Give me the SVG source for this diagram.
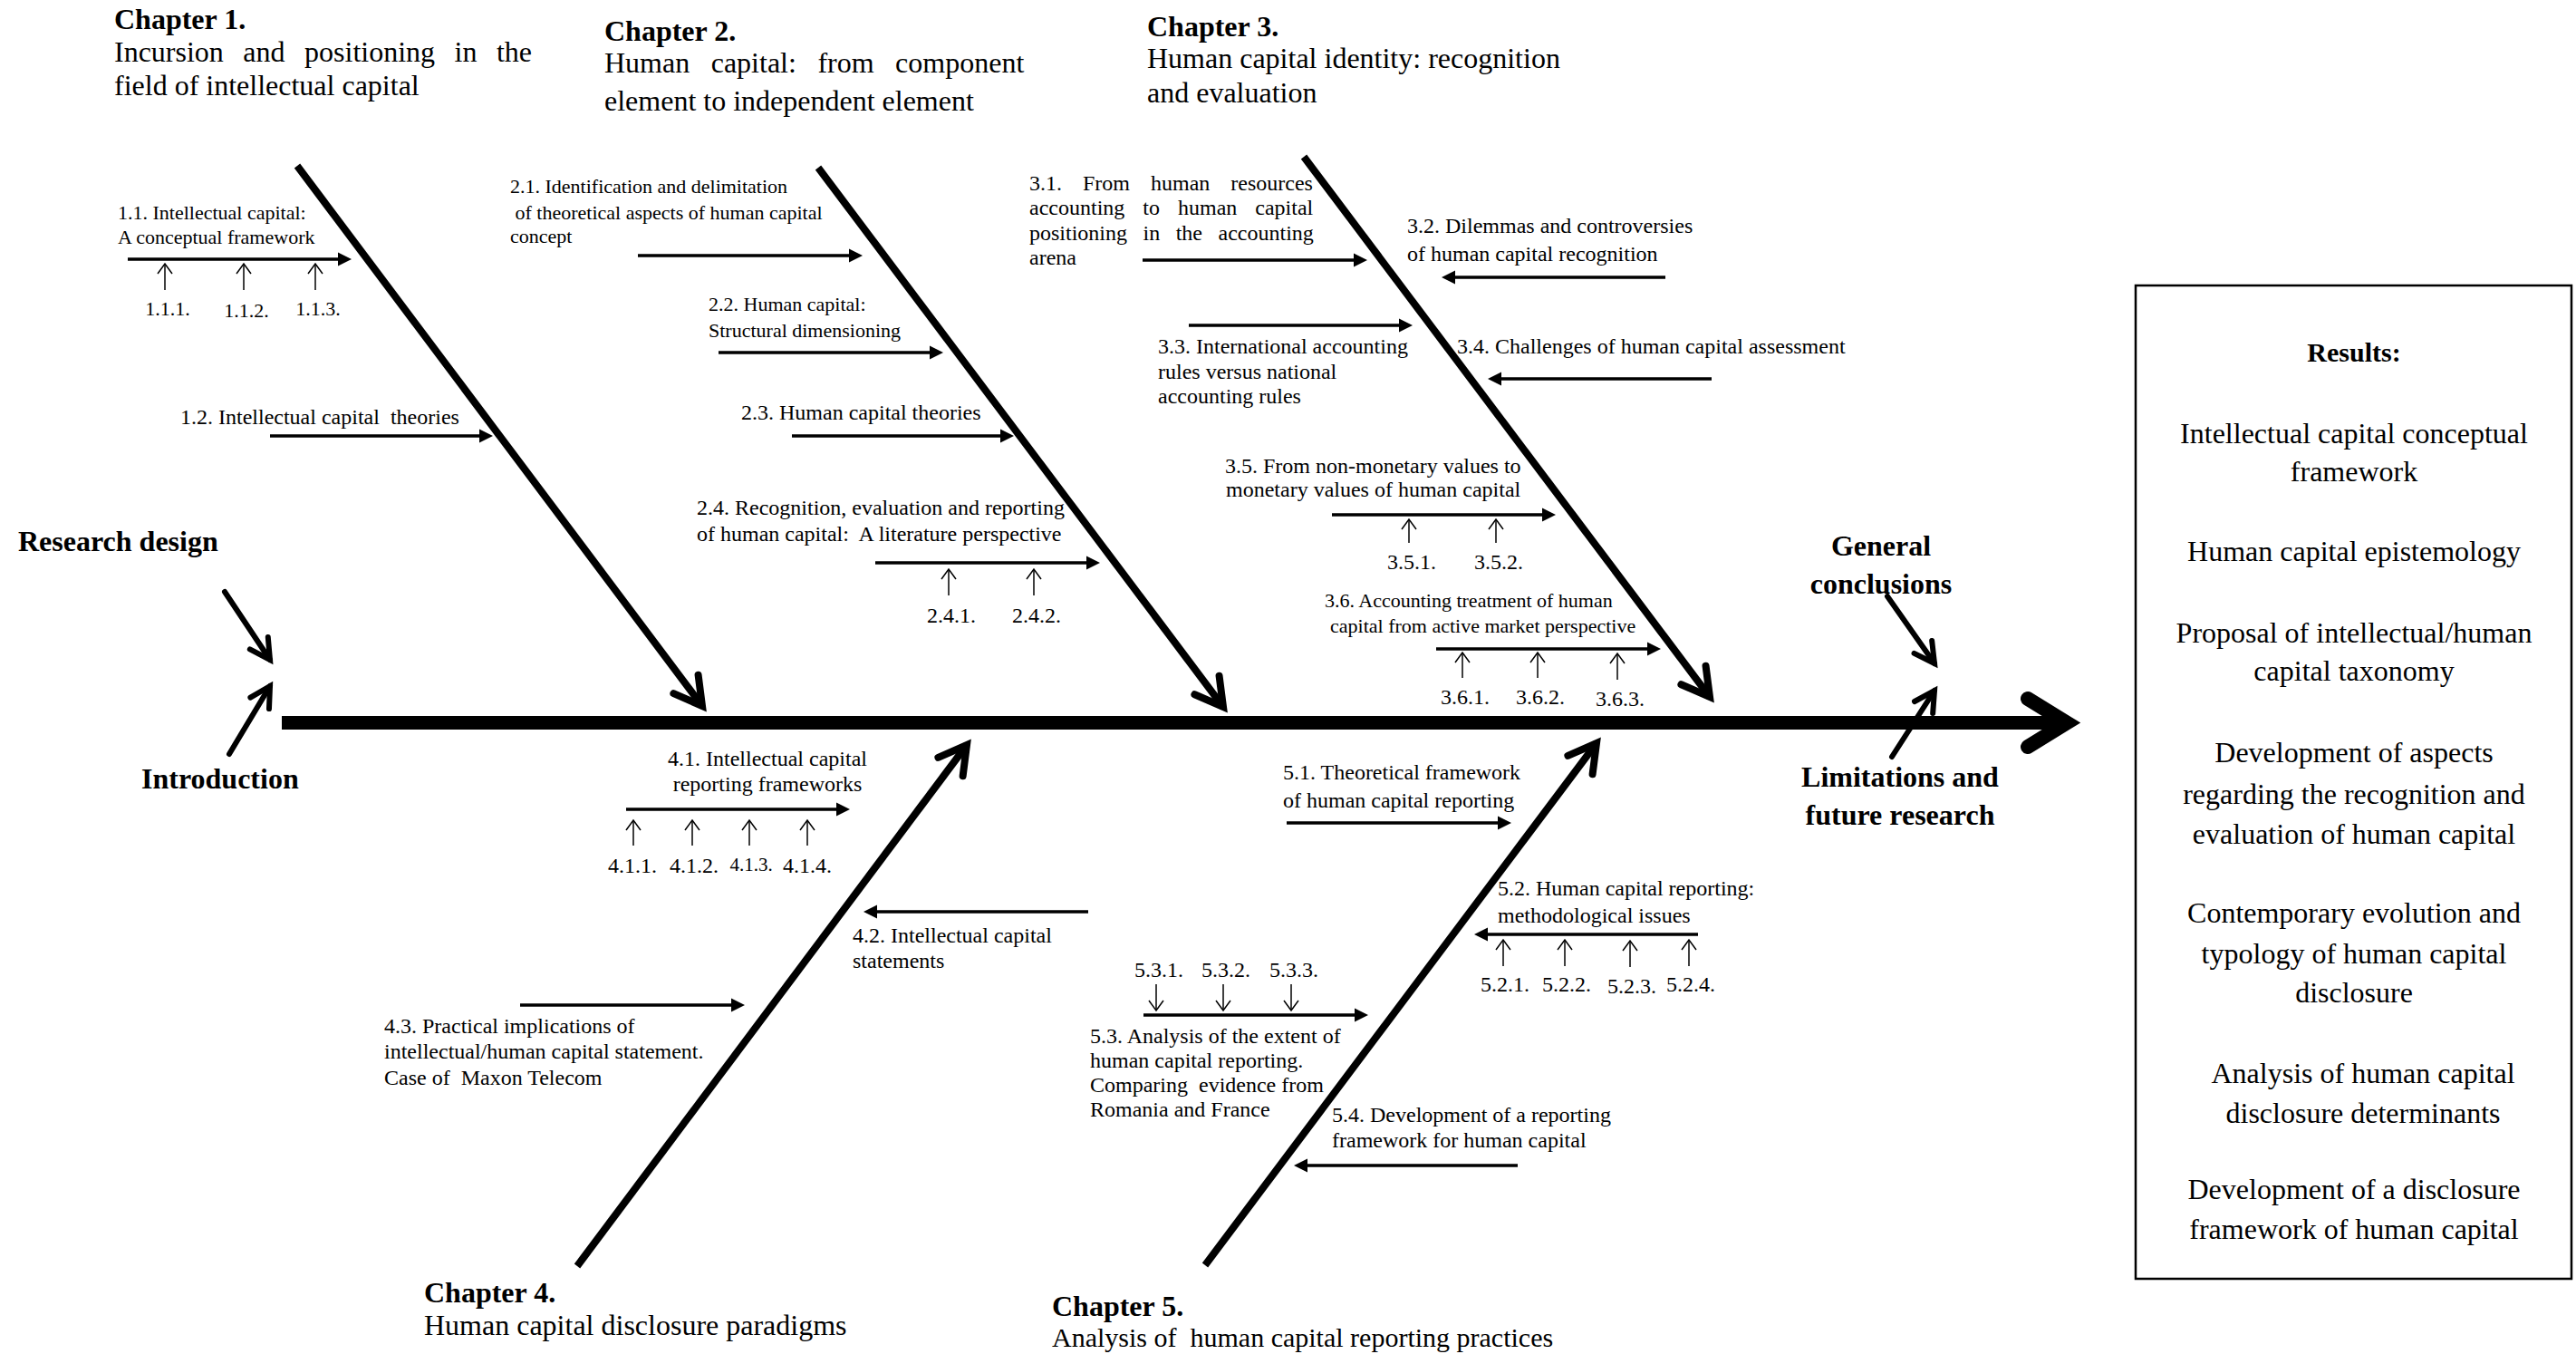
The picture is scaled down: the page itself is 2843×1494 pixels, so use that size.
<svg xmlns="http://www.w3.org/2000/svg" width="2843" height="1494" viewBox="0 0 2843 1494">
<style>
.t{font-family:"Liberation Serif","Times New Roman",serif;fill:#000}
.s21{font-size:21px}.s22{font-size:22px}.s24{font-size:24px}.s30{font-size:30px}.s32{font-size:32px}
.b{font-weight:bold}
.m{text-anchor:middle}
.bone{stroke:#000;stroke-width:8;fill:none;marker-end:url(#mBone)}
.sub{stroke:#000;stroke-width:3.5;fill:none;marker-end:url(#mSub)}
.tiny{stroke:#000;stroke-width:1.5;fill:none;marker-end:url(#mTiny)}
.barrow{stroke:#000;stroke-width:6;stroke-linecap:round;fill:none;marker-end:url(#mBold)}
</style>
<defs>
<marker id="mBone" markerUnits="userSpaceOnUse" orient="auto" refX="0" refY="0" markerWidth="60" markerHeight="60" overflow="visible">
<path d="M-30,-17 L0,0 L-30,17" fill="none" stroke="#000" stroke-width="8" stroke-linecap="round" stroke-linejoin="miter"/>
</marker>
<marker id="mSub" markerUnits="userSpaceOnUse" orient="auto" refX="5" refY="0" markerWidth="30" markerHeight="30" overflow="visible">
<path d="M0,-7.5 L15,0 L0,7.5 Z" fill="#000"/>
</marker>
<marker id="mTiny" markerUnits="userSpaceOnUse" orient="auto" refX="0" refY="0" markerWidth="30" markerHeight="30" overflow="visible">
<path d="M-11,-8 L0,0 L-11,8" fill="none" stroke="#000" stroke-width="1.5"/>
</marker>
<marker id="mBold" markerUnits="userSpaceOnUse" orient="auto" refX="0" refY="0" markerWidth="40" markerHeight="40" overflow="visible">
<path d="M-22,-12 L0,0 L-22,12" fill="none" stroke="#000" stroke-width="6" stroke-linecap="round" stroke-linejoin="miter"/>
</marker>
</defs>
<rect x="0" y="0" width="2843" height="1494" fill="#fff"/>

<g id="connectors">
<!-- main spine -->
<rect x="311" y="790" width="1968" height="15" fill="#000"/>
<path d="M2238,771 L2281,797.5 L2238,824" fill="none" stroke="#000" stroke-width="16" stroke-linecap="round" stroke-linejoin="miter"/>
<!-- bones -->
<line class="bone" x1="328" y1="183" x2="775" y2="779"/>
<line class="bone" x1="903" y1="185" x2="1350" y2="780"/>
<line class="bone" x1="1439" y1="173" x2="1887" y2="769"/>
<line class="bone" x1="637" y1="1397" x2="1067" y2="822"/>
<line class="bone" x1="1330" y1="1396" x2="1762" y2="820"/>
<!-- side bold arrows -->
<line class="barrow" x1="248" y1="653" x2="298" y2="728"/>
<line class="barrow" x1="253" y1="832" x2="298" y2="757"/>
<line class="barrow" x1="2083" y1="658" x2="2135" y2="732"/>
<line class="barrow" x1="2088" y1="835" x2="2135" y2="762"/>
<!-- sub-bone arrows -->
<line class="sub" x1="141" y1="286" x2="378" y2="286"/>
<line class="sub" x1="298" y1="481" x2="534" y2="481"/>
<line class="sub" x1="704" y1="282" x2="942" y2="282"/>
<line class="sub" x1="793" y1="389" x2="1031" y2="389"/>
<line class="sub" x1="874" y1="481" x2="1109" y2="481"/>
<line class="sub" x1="966" y1="621" x2="1204" y2="621"/>
<line class="sub" x1="1261" y1="287" x2="1499" y2="287"/>
<line class="sub" x1="1838" y1="306" x2="1601" y2="306"/>
<line class="sub" x1="1312" y1="359" x2="1549" y2="359"/>
<line class="sub" x1="1889" y1="418" x2="1652" y2="418"/>
<line class="sub" x1="1470" y1="568" x2="1707" y2="568"/>
<line class="sub" x1="1585" y1="716" x2="1823" y2="716"/>
<line class="sub" x1="691" y1="893" x2="928" y2="893"/>
<line class="sub" x1="1201" y1="1006" x2="963" y2="1006"/>
<line class="sub" x1="574" y1="1109" x2="812" y2="1109"/>
<line class="sub" x1="1420" y1="908" x2="1658" y2="908"/>
<line class="sub" x1="1874" y1="1031" x2="1637" y2="1031"/>
<line class="sub" x1="1262" y1="1120" x2="1500" y2="1120"/>
<line class="sub" x1="1675" y1="1286" x2="1438" y2="1286"/>
<!-- tiny arrows -->
<line class="tiny" x1="182" y1="320" x2="182" y2="291"/>
<line class="tiny" x1="269" y1="320" x2="269" y2="291"/>
<line class="tiny" x1="348" y1="320" x2="348" y2="291"/>
<line class="tiny" x1="1047" y1="657" x2="1047" y2="628"/>
<line class="tiny" x1="1141" y1="657" x2="1141" y2="628"/>
<line class="tiny" x1="1555" y1="599" x2="1555" y2="573"/>
<line class="tiny" x1="1651" y1="599" x2="1651" y2="573"/>
<line class="tiny" x1="1614" y1="748" x2="1614" y2="720"/>
<line class="tiny" x1="1697" y1="748" x2="1697" y2="720"/>
<line class="tiny" x1="1785" y1="750" x2="1785" y2="721"/>
<line class="tiny" x1="699" y1="933" x2="699" y2="905"/>
<line class="tiny" x1="764" y1="933" x2="764" y2="905"/>
<line class="tiny" x1="827" y1="933" x2="827" y2="905"/>
<line class="tiny" x1="891" y1="933" x2="891" y2="905"/>
<line class="tiny" x1="1659" y1="1066" x2="1659" y2="1037"/>
<line class="tiny" x1="1727" y1="1066" x2="1727" y2="1037"/>
<line class="tiny" x1="1799" y1="1067" x2="1799" y2="1038"/>
<line class="tiny" x1="1864" y1="1066" x2="1864" y2="1037"/>
<line class="tiny" x1="1276" y1="1086" x2="1276" y2="1115"/>
<line class="tiny" x1="1350" y1="1086" x2="1350" y2="1115"/>
<line class="tiny" x1="1425" y1="1086" x2="1425" y2="1115"/>
</g>

<g id="chapter1">
<text class="t s32 b" x="126" y="32">Chapter 1.</text>
<text class="t s32" x="126" y="68" style="word-spacing:13.5px">Incursion and positioning in the</text>
<text class="t s32" x="126" y="105">field of intellectual capital</text>
</g>
<g id="chapter2">
<text class="t s32 b" x="667" y="45">Chapter 2.</text>
<text class="t s32" x="667" y="80" style="word-spacing:15.5px">Human capital: from component</text>
<text class="t s32" x="667" y="122">element to independent element</text>
</g>
<g id="chapter3">
<text class="t s32 b" x="1266" y="40">Chapter 3.</text>
<text class="t s32" x="1266" y="75">Human capital identity: recognition</text>
<text class="t s32" x="1266" y="113">and evaluation</text>
</g>
<g id="chapter4">
<text class="t s32 b" x="468" y="1437">Chapter 4.</text>
<text class="t s32" x="468" y="1473">Human capital disclosure paradigms</text>
</g>
<g id="chapter5">
<text class="t s32 b" x="1161" y="1452">Chapter 5.</text>
<text class="t s30" x="1161" y="1486" xml:space="preserve">Analysis of  human capital reporting practices</text>
</g>

<g id="research-design"><text class="t s32 b" x="20" y="608">Research design</text></g>
<g id="introduction"><text class="t s32 b" x="156" y="870">Introduction</text></g>
<g id="general-conclusions">
<text class="t s32 b m" x="2076" y="613">General</text>
<text class="t s32 b m" x="2076" y="655">conclusions</text>
</g>
<g id="limitations">
<text class="t s32 b m" x="2097" y="868">Limitations and</text>
<text class="t s32 b m" x="2097" y="910">future research</text>
</g>

<g id="s1-1">
<text class="t s22" x="130" y="242">1.1. Intellectual capital:</text>
<text class="t s22" x="130" y="269">A conceptual framework</text>
<text class="t s22 m" x="185" y="348">1.1.1.</text>
<text class="t s22 m" x="272" y="350">1.1.2.</text>
<text class="t s22 m" x="351" y="348">1.1.3.</text>
</g>
<g id="s1-2"><text class="t s24" x="199" y="468" xml:space="preserve">1.2. Intellectual capital  theories</text></g>

<g id="s2-1">
<text class="t s22" x="563" y="213">2.1. Identification and delimitation</text>
<text class="t s22" x="563" y="242" xml:space="preserve"> of theoretical aspects of human capital</text>
<text class="t s22" x="563" y="268">concept</text>
</g>
<g id="s2-2">
<text class="t s22" x="782" y="343">2.2. Human capital:</text>
<text class="t s22" x="782" y="372">Structural dimensioning</text>
</g>
<g id="s2-3"><text class="t s24" x="818" y="463">2.3. Human capital theories</text></g>
<g id="s2-4">
<text class="t s24" x="769" y="568">2.4. Recognition, evaluation and reporting</text>
<text class="t s24" x="769" y="597" xml:space="preserve">of human capital:  A literature perspective</text>
<text class="t s24 m" x="1050" y="687">2.4.1.</text>
<text class="t s24 m" x="1144" y="687">2.4.2.</text>
</g>

<g id="s3-1">
<text class="t s24" x="1136" y="210" style="word-spacing:17px">3.1. From human resources</text>
<text class="t s24" x="1136" y="237" style="word-spacing:14px">accounting to human capital</text>
<text class="t s24" x="1136" y="265" style="word-spacing:11.5px">positioning in the accounting</text>
<text class="t s24" x="1136" y="292">arena</text>
</g>
<g id="s3-2">
<text class="t s24" x="1553" y="257">3.2. Dilemmas and controversies</text>
<text class="t s24" x="1553" y="288">of human capital recognition</text>
</g>
<g id="s3-3">
<text class="t s24" x="1278" y="390">3.3. International accounting</text>
<text class="t s24" x="1278" y="418">rules versus national</text>
<text class="t s24" x="1278" y="445">accounting rules</text>
</g>
<g id="s3-4"><text class="t s24" x="1608" y="390">3.4. Challenges of human capital assessment</text></g>
<g id="s3-5">
<text class="t s24" x="1352" y="522">3.5. From non-monetary values to</text>
<text class="t s24" x="1353" y="548">monetary values of human capital</text>
<text class="t s24 m" x="1558" y="628">3.5.1.</text>
<text class="t s24 m" x="1654" y="628">3.5.2.</text>
</g>
<g id="s3-6">
<text class="t s22" x="1462" y="670">3.6. Accounting treatment of human</text>
<text class="t s22" x="1468" y="698">capital from active market perspective</text>
<text class="t s24 m" x="1617" y="777">3.6.1.</text>
<text class="t s24 m" x="1700" y="777">3.6.2.</text>
<text class="t s24 m" x="1788" y="779">3.6.3.</text>
</g>

<g id="s4-1">
<text class="t s24 m" x="847" y="845">4.1. Intellectual capital</text>
<text class="t s24 m" x="847" y="873">reporting frameworks</text>
<text class="t s24 m" x="698" y="963">4.1.1.</text>
<text class="t s24 m" x="766" y="963">4.1.2.</text>
<text class="t s21 m" x="829" y="961">4.1.3.</text>
<text class="t s24 m" x="891" y="963">4.1.4.</text>
</g>
<g id="s4-2">
<text class="t s24" x="941" y="1040">4.2. Intellectual capital</text>
<text class="t s24" x="941" y="1068">statements</text>
</g>
<g id="s4-3">
<text class="t s24" x="424" y="1140">4.3. Practical implications of</text>
<text class="t s24" x="424" y="1168">intellectual/human capital statement.</text>
<text class="t s24" x="424" y="1197" xml:space="preserve">Case of  Maxon Telecom</text>
</g>

<g id="s5-1">
<text class="t s24" x="1416" y="860">5.1. Theoretical framework</text>
<text class="t s24" x="1416" y="891">of human capital reporting</text>
</g>
<g id="s5-2">
<text class="t s24" x="1653" y="988">5.2. Human capital reporting:</text>
<text class="t s24" x="1653" y="1018">methodological issues</text>
<text class="t s24 m" x="1661" y="1094">5.2.1.</text>
<text class="t s24 m" x="1729" y="1094">5.2.2.</text>
<text class="t s24 m" x="1801" y="1096">5.2.3.</text>
<text class="t s24 m" x="1866" y="1094">5.2.4.</text>
</g>
<g id="s5-3">
<text class="t s24 m" x="1279" y="1078">5.3.1.</text>
<text class="t s24 m" x="1353" y="1078">5.3.2.</text>
<text class="t s24 m" x="1428" y="1078">5.3.3.</text>
<text class="t s24" x="1203" y="1151">5.3. Analysis of the extent of</text>
<text class="t s24" x="1203" y="1178">human capital reporting.</text>
<text class="t s24" x="1203" y="1205" xml:space="preserve">Comparing  evidence from</text>
<text class="t s24" x="1203" y="1232">Romania and France</text>
</g>
<g id="s5-4">
<text class="t s24" x="1470" y="1238">5.4. Development of a reporting</text>
<text class="t s24" x="1470" y="1266">framework for human capital</text>
</g>

<g id="results">
<rect x="2357" y="315" width="481" height="1096" fill="none" stroke="#000" stroke-width="2.5"/>
<text class="t s30 b m" x="2598" y="399">Results:</text>
<text class="t s32 m" x="2598" y="489">Intellectual capital conceptual</text>
<text class="t s32 m" x="2598" y="531">framework</text>
<text class="t s32 m" x="2598" y="619">Human capital epistemology</text>
<text class="t s32 m" x="2598" y="709">Proposal of intellectual/human</text>
<text class="t s32 m" x="2598" y="751">capital taxonomy</text>
<text class="t s32 m" x="2598" y="841">Development of aspects</text>
<text class="t s32 m" x="2598" y="887">regarding the recognition and</text>
<text class="t s32 m" x="2598" y="931">evaluation of human capital</text>
<text class="t s32 m" x="2598" y="1018">Contemporary evolution and</text>
<text class="t s32 m" x="2598" y="1063">typology of human capital</text>
<text class="t s32 m" x="2598" y="1106">disclosure</text>
<text class="t s32 m" x="2608" y="1195">Analysis of human capital</text>
<text class="t s32 m" x="2608" y="1239">disclosure determinants</text>
<text class="t s32 m" x="2598" y="1323">Development of a disclosure</text>
<text class="t s32 m" x="2598" y="1367">framework of human capital</text>
</g>
</svg>
